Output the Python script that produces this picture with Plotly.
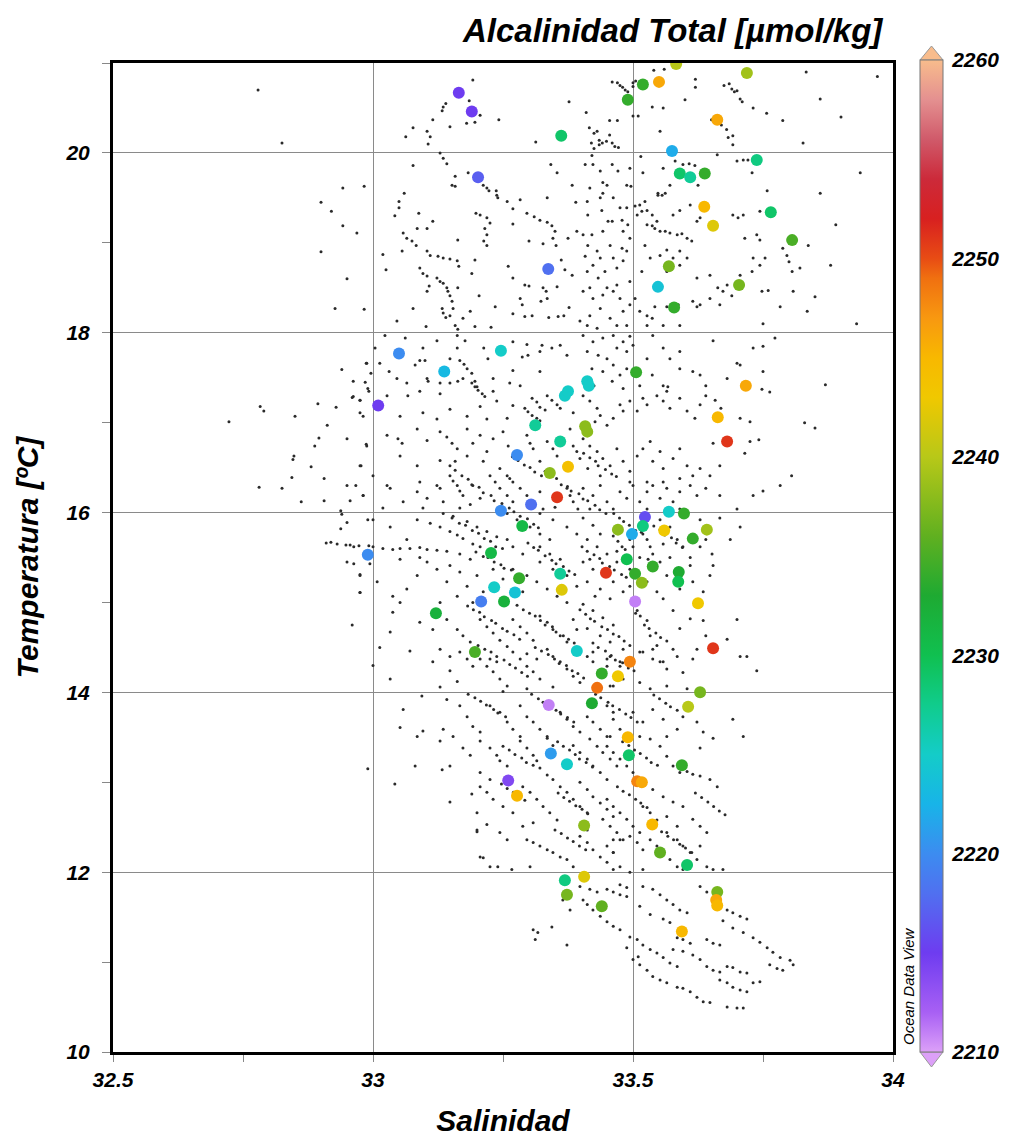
import plotly.graph_objects as go

# ---------------- Colored stations: salinity, temperature, total alkalinity ----------------
alk_sal = [33.165, 33.190, 33.362, 33.202, 33.337, 33.050, 33.246, 33.137, 33.010, 33.369,
           33.375, 33.412, 33.415, 33.312, 33.360, 33.277, 33.375, 33.340, 33.354, 33.304,
           33.246, 33.287, 32.990, 33.227, 33.281, 33.233, 33.273, 33.208, 33.252, 33.360,
           33.363, 33.121, 33.196, 33.392,
           33.506, 33.717, 33.663, 33.681, 33.408, 33.412, 33.569, 33.598, 33.523, 33.519,
           33.471, 33.498, 33.560, 33.642, 33.615, 33.488, 33.538, 33.504, 33.517, 33.588,
           33.587, 33.448, 33.504, 33.625, 33.654, 33.494, 33.440, 33.471, 33.431, 33.338,
           33.421, 33.342, 33.373, 33.260, 33.277, 33.406, 33.369, 33.406, 33.373, 33.440,
           33.629, 33.606, 33.490, 33.492, 33.594, 33.508, 33.517, 33.537, 33.552, 33.604,
           33.662, 33.660, 33.662, 33.594,
           33.583, 33.719, 33.519, 33.550, 33.490, 33.662, 33.575, 33.738, 33.590, 33.610,
           33.638, 33.637, 33.654, 33.765, 33.806, 33.569, 33.548, 33.704, 33.579]
alk_temp = [20.67, 20.46, 20.19, 19.73, 18.71, 17.77, 17.80, 17.57, 17.19, 17.30,
            17.35, 17.46, 17.41, 16.97, 16.79, 16.64, 16.51, 16.44, 16.17, 16.09,
            16.02, 15.85, 15.53, 15.55, 15.27, 15.17, 15.11, 15.01, 15.01, 15.32,
            15.14, 14.88, 14.45, 14.46,
            17.56, 17.41, 17.06, 16.79, 16.96, 16.90, 16.01, 15.99, 15.95, 15.85,
            15.81, 15.76, 15.80, 15.81, 15.71, 15.48, 15.40, 15.32, 15.22, 15.34,
            15.23, 15.33, 15.01, 14.99, 14.49, 14.34, 14.21, 14.18, 14.05, 13.86,
            13.88, 13.32, 13.20, 13.02, 12.85, 12.52, 11.91, 11.95, 11.75, 11.62,
            14.00, 13.84, 13.50, 13.30, 13.19, 13.01, 13.00, 12.53, 12.22, 12.08,
            11.78, 11.69, 11.63, 11.34,
            20.99, 20.89, 20.76, 20.79, 20.59, 20.37, 20.02, 19.92, 19.77, 19.73,
            19.77, 19.40, 19.19, 19.34, 19.03, 18.74, 18.51, 18.53, 18.28]
alk_value = [2215, 2215, 2229, 2217, 2218, 2220, 2225, 2223, 2215, 2225,
             2225, 2225, 2225, 2227, 2227, 2220, 2244, 2238, 2251, 2218,
             2220, 2231, 2220, 2231, 2234, 2225, 2224, 2219, 2232, 2227,
             2242, 2232, 2235, 2225,
             2234, 2246, 2245, 2251, 2238, 2238, 2225, 2234, 2216, 2228,
             2238, 2222, 2243, 2239, 2234, 2230, 2234, 2234, 2238, 2233,
             2230, 2251, 2211, 2243, 2251, 2248, 2234, 2243, 2249, 2211,
             2233, 2221, 2225, 2214, 2245, 2238, 2228, 2242, 2237, 2236,
             2237, 2240, 2245, 2229, 2234, 2248, 2246, 2245, 2236, 2229,
             2237, 2246, 2245, 2245,
             2240, 2239, 2234, 2246, 2234, 2246, 2222, 2228, 2229, 2227,
             2234, 2245, 2242, 2229, 2235, 2237, 2224, 2237, 2234]

# ---------------- Background CTD samples (salinity, temperature) ----------------
bg_20_21 = [(33.192,20.81),(33.14,20.55),(33.135,20.51),(33.133,20.47),(33.185,20.58),(33.377,20.57),
            (33.46,20.79),(33.47,20.78),(33.475,20.75),(33.48,20.73),(33.485,20.70),(33.49,20.68),
            (33.50,20.78),(33.505,20.80),(33.50,20.74),(33.54,20.92),(33.56,20.93),(33.60,20.59),
            (33.62,20.82),(33.62,20.73),(33.675,20.75),(33.685,20.77),(33.69,20.71),(33.695,20.68),
            (33.70,20.69),(33.706,20.60),(33.71,20.57),(33.731,20.50),(33.757,20.44),(33.833,20.90),
            (33.537,20.51),(33.558,20.50),(32.779,20.70),(33.86,20.60),(33.97,20.85),
            (33.206,20.42),(33.18,20.33),(33.196,20.34),(33.242,20.37),(33.115,20.37),(33.077,20.28),
            (33.104,20.24),(33.11,20.18),(33.106,20.10),(33.063,20.18),(33.148,20.29),(33.313,20.12),
            (33.41,20.45),(33.416,20.28),(33.425,20.22),(33.431,20.24),(33.435,20.14),(33.441,20.11),
            (33.449,20.13),(33.455,20.20),(33.46,20.11),(33.465,20.07),(33.472,20.06),(33.42,20.11),
            (33.435,20.09),(33.425,20.05),(33.47,20.36),(33.455,20.36),(33.50,20.41),(33.51,20.41),
            (33.651,20.37),(33.656,20.36),(33.67,20.31),(33.68,20.26),(33.683,20.17),(33.692,20.19),
            (33.692,20.09),(33.788,20.36),(33.827,20.11),(33.552,20.24),(32.825,20.11),(33.90,20.40)]

bg_19_20 = [(33.129,20.0),(33.135,19.94),(33.142,19.88),(33.077,19.86),(33.183,19.78),(33.158,19.74),
            (33.152,19.64),(33.158,19.63),(33.212,19.64),(33.219,19.61),(33.223,19.58),(33.237,19.58),
            (33.238,19.53),(33.240,19.50),(33.060,19.55),(32.983,19.63),(32.942,19.61),(33.383,19.64),
            (33.342,19.87),(33.354,19.78),(33.421,19.97),(33.408,19.87),(33.423,19.87),(33.437,19.80),
            (33.46,19.87),(33.471,19.80),(33.494,19.83),(33.488,19.64),(33.496,19.63),(33.442,19.67),
            (33.45,19.64),(33.417,19.61),(33.515,19.96),(33.519,19.78),(33.558,19.83),(33.548,19.53),
            (33.562,19.55),(33.571,19.64),(33.581,19.91),(33.596,19.87),(33.608,19.88),(33.619,19.86),
            (33.625,19.64),(33.70,19.91),(33.712,19.92),(33.721,19.92),(33.662,19.98),(33.729,19.78),
            (33.758,19.58),(33.937,19.78),(33.86,19.55),(32.90,19.45),(32.92,19.35),
            (33.258,19.46),(33.269,19.38),(33.283,19.48),(33.05,19.46),(33.05,19.39),(33.088,19.33),
            (33.042,19.30),(33.115,19.24),(33.198,19.33),(33.206,19.31),(33.219,19.28),(33.225,19.22),
            (33.215,19.16),(33.219,19.09),(33.213,19.02),(33.219,18.97),(33.058,19.11),(33.065,19.05),
            (33.075,19.02),(33.083,18.97),(33.163,19.03),(33.085,19.16),(33.104,19.16),(33.296,19.33),
            (33.31,19.29),(33.321,19.25),(33.335,19.23),(33.344,19.19),(33.35,19.13),(33.269,19.21),
            (33.30,19.02),(33.327,18.99),(33.346,19.05),(33.352,18.97),(33.375,19.05),(33.392,19.13),
            (33.335,19.50),(33.39,19.45),(32.969,19.11),(32.942,19.19),
            (33.412,19.46),(33.437,19.50),(33.442,19.55),(33.462,19.50),(33.475,19.39),(33.488,19.39),
            (33.413,19.31),(33.44,19.36),(33.452,19.24),(33.46,19.24),(33.479,19.25),(33.481,19.13),
            (33.49,19.20),(33.442,19.13),(33.421,19.09),(33.404,19.09),(33.494,19.05),(33.504,19.41),
            (33.513,19.42),(33.523,19.46),(33.508,19.31),(33.517,19.35),(33.527,19.36),(33.537,19.31),
            (33.546,19.24),(33.548,19.55),(33.556,19.53),(33.527,19.20),(33.537,19.19),(33.542,19.16),
            (33.552,19.13),(33.562,19.13),(33.571,19.11),(33.585,19.09),(33.594,19.10),(33.604,19.05),
            (33.613,19.02),(33.577,19.31),(33.59,19.36),(33.623,19.24),(33.629,19.28),(33.61,19.42),
            (33.692,19.31),(33.702,19.28),(33.712,19.31),(33.744,19.35),(33.715,19.05),(33.738,19.09),
            (33.744,19.03),(33.788,18.94),(33.796,18.86),(33.80,18.79),(33.806,18.68),(33.89,19.20)]

bg_18_19 = [(33.104,18.91),(33.11,18.86),(33.125,18.85),(33.135,18.83),(33.148,18.82),(33.162,18.80),
            (33.165,18.74),(33.09,18.72),(33.096,18.66),(33.104,18.63),(33.123,18.61),(33.129,18.57),
            (33.135,18.55),(33.142,18.50),(33.19,18.66),(33.196,18.81),(33.019,18.87),(33.025,18.70),
            (33.056,18.91),(33.108,18.52),(33.26,18.74),(33.269,18.61),(33.292,18.53),(33.30,18.52),
            (33.327,18.50),(33.354,18.51),(33.369,18.70),(33.383,18.64),(33.362,18.81),
            (33.413,18.97),(33.431,18.91),(33.437,18.83),(33.423,18.75),(33.412,18.68),(33.446,18.68),
            (33.462,18.83),(33.469,18.72),(33.481,18.80),(33.488,18.91),(33.479,18.94),(33.456,18.97),
            (33.408,18.85),(33.433,18.61),(33.469,18.53),(33.45,18.50),(33.417,18.50),(33.494,18.57),
            (33.517,18.68),(33.533,18.83),(33.552,18.86),(33.523,18.97),(33.565,18.92),(33.577,18.83),
            (33.59,18.91),(33.604,18.83),(33.59,18.75),(33.565,18.68),(33.623,18.61),(33.648,18.64),
            (33.663,18.50),(33.681,18.53),(33.673,18.46),(33.69,18.41),(33.70,18.50),(33.731,18.83),
            (33.744,18.75),(33.754,18.83),(33.76,18.47),(33.729,18.68),(33.706,18.64),(33.808,18.46),
            (33.821,18.72),(33.837,18.97),(32.90,18.90),(32.95,18.60),(33.88,18.75),
            (33.144,18.46),(33.148,18.41),(33.152,18.35),(33.154,18.27),(33.148,18.19),(33.133,18.27),
            (33.135,18.22),(33.14,18.17),(33.158,18.08),(33.163,18.04),(33.173,18.16),(33.187,18.24),
            (33.204,18.41),(33.235,18.29),(33.163,18.50),(33.104,18.46),(33.283,18.38),(33.287,18.31),
            (33.269,18.21),(33.292,18.18),(33.306,18.19),(33.333,18.46),(33.335,18.38),(33.323,18.35),
            (33.338,18.17),(33.356,18.18),(33.367,18.19),(33.377,18.28),(32.983,18.26),(33.077,18.27),
            (33.046,18.13),(33.102,18.07),(33.227,18.06),(33.196,18.07),(32.927,18.27),
            (33.404,18.46),(33.423,18.38),(33.442,18.42),(33.462,18.46),(33.475,18.38),(33.437,18.27),
            (33.417,18.19),(33.398,18.13),(33.412,18.08),(33.431,18.05),(33.456,18.16),(33.469,18.08),
            (33.481,18.24),(33.494,18.31),(33.488,18.08),(33.504,18.38),(33.513,18.24),(33.527,18.19),
            (33.537,18.16),(33.542,18.29),(33.565,18.29),(33.587,18.31),(33.615,18.35),(33.623,18.29),
            (33.629,18.31),(33.527,18.08),(33.558,18.08),(33.59,18.08),(33.648,18.38),(33.667,18.31),
            (33.748,18.46),(33.75,18.10),(33.783,18.29),(33.835,18.24),(33.85,18.40),(33.93,18.10)]

bg_17_18 = [(33.023,17.97),(33.004,17.83),(32.988,17.66),(33.013,17.66),(33.031,17.57),(33.062,17.94),
            (33.096,17.83),(33.10,17.69),(33.081,17.64),(33.09,17.69),(33.123,17.91),(33.162,17.97),
            (33.177,17.91),(33.162,17.83),(33.167,17.69),(33.175,17.65),(33.181,17.60),(33.19,17.55),
            (33.196,17.46),(33.20,17.40),(33.148,17.71),(33.213,17.83),(33.221,17.71),(33.269,17.90),
            (33.296,17.87),(33.287,17.73),(33.298,17.75),(33.321,17.79),(33.325,17.86),(33.344,17.83),
            (33.36,17.86),(33.373,17.75),(33.321,17.57),(33.269,17.58),(33.231,17.49),(33.104,17.49),
            (33.129,17.44),(33.065,17.44),(33.046,17.49),(32.99,17.38),(32.962,17.46),
            (33.404,17.97),(33.423,17.90),(33.442,17.94),(33.462,17.97),(33.481,17.90),(33.494,17.96),
            (33.412,17.79),(33.433,17.75),(33.45,17.71),(33.469,17.83),(33.488,17.79),(33.421,17.60),
            (33.442,17.57),(33.462,17.64),(33.475,17.53),(33.488,17.60),(33.425,17.41),(33.46,17.46),
            (33.481,17.38),(33.50,17.86),(33.538,17.97),(33.558,17.83),(33.59,17.79),(33.571,17.71),
            (33.527,17.71),(33.537,17.53),(33.513,17.41),(33.558,17.41),(33.59,17.60),(33.615,17.57),
            (33.629,17.53),(33.64,17.41),(33.681,17.49),(33.70,17.66),(33.75,17.57),(33.731,17.83),
            (33.75,17.85),(33.773,17.94),(33.654,17.91),(33.567,17.40),(33.706,17.64),(33.748,17.37),
            (33.763,17.34),(33.87,17.42),(33.83,17.00),(33.85,16.94),(33.805,16.41),(33.75,16.24),
            (33.725,16.79),(33.742,16.81),
            (32.987,17.66),(32.996,17.55),(32.94,17.59),(32.985,17.45),(32.992,17.35),(32.96,17.28),
            (32.975,17.25),(32.975,17.11),(32.894,17.21),(32.929,17.17),(32.85,17.07),(32.783,17.18),
            (32.79,17.13),(32.723,17.01),(32.912,16.97),(32.896,16.83),(32.888,16.74),(32.848,16.63),
            (32.846,16.59),(32.881,16.51),(32.844,16.39),(32.906,16.38),(32.967,16.30),(32.981,16.19),
            (32.781,16.28),(32.825,16.27),(32.862,16.12),(32.906,16.13),(32.987,16.76),(32.977,16.52),
            (33.027,17.30),(32.975,17.25),(32.962,17.29),(33.067,17.30),(33.09,17.35),(33.106,17.46),
            (33.129,17.32),(33.148,17.44),(33.163,17.46),(33.173,17.49),(33.19,17.44),(33.196,17.40),
            (33.202,17.36),(33.21,17.32),(33.215,17.29),(33.231,17.35),(33.263,17.44),(33.269,17.19),
            (33.292,17.16),(33.298,17.12),(33.306,17.08),(33.315,17.05),(33.321,17.02),(33.306,17.27),
            (33.315,17.23),(33.321,17.17),(33.331,17.14),(33.335,17.30),(33.344,17.25),(33.354,17.20),
            (33.36,17.16),(33.283,17.41),(33.238,17.24),(33.206,17.18),(33.181,17.07),(33.148,17.15),
            (33.123,17.04),(33.096,17.11),(33.052,17.07),(33.013,17.15),(32.981,17.07),(33.219,17.04),
            (33.258,17.05),(33.385,17.11),(33.379,16.93),
            (33.404,17.30),(33.417,17.24),(33.431,17.16),(33.437,17.08),(33.427,17.01),(33.45,16.97),
            (33.462,17.05),(33.475,17.20),(33.481,17.13),(33.494,17.24),(33.508,17.13),(33.519,17.27),
            (33.527,17.20),(33.546,17.30),(33.558,17.24),(33.565,17.35),(33.571,17.16),(33.59,17.27),
            (33.604,17.13),(33.619,17.05),(33.629,17.20),(33.64,17.30),(33.658,17.25),(33.669,17.16),
            (33.706,17.05),(33.725,17.01)]

bg_16_17 = [(32.95,16.82),(32.988,16.74),(33.027,16.86),(33.048,16.82),(33.056,16.77),(33.085,16.93),
            (33.104,16.80),(33.129,16.90),(33.142,16.84),(33.152,16.77),(33.162,16.71),(33.181,16.93),
            (33.192,16.77),(33.206,16.86),(33.219,16.68),(33.231,16.82),(33.25,16.90),(33.26,16.74),
            (33.129,16.58),(33.148,16.52),(33.158,16.57),(33.181,16.63),(33.212,16.57),(33.244,16.49),
            (33.258,16.41),(33.263,16.38),(33.269,16.34),(33.296,16.86),(33.302,16.77),(33.308,16.71),
            (33.335,16.79),(33.346,16.71),(33.354,16.63),(33.385,16.74),(33.392,16.68),(33.398,16.60),
            (33.321,16.57),(33.052,16.63),(32.975,16.52),(33.0,16.41),(33.027,16.30),(33.085,16.52),
            (33.09,16.34),
            (33.404,16.82),(33.417,16.74),(33.431,16.68),(33.442,16.60),(33.456,16.52),(33.437,16.41),
            (33.413,16.49),(33.469,16.71),(33.481,16.57),(33.494,16.46),(33.508,16.63),(33.519,16.71),
            (33.533,16.79),(33.538,16.57),(33.552,16.68),(33.558,16.49),(33.577,16.60),(33.59,16.71),
            (33.604,16.52),(33.615,16.41),(33.629,16.49),(33.648,16.41),(33.667,16.52),(33.59,16.38),
            (33.558,16.34),(33.527,16.34),(33.494,16.34),(33.654,16.77),(33.715,16.66),
            (32.95,16.30),(32.981,16.19),(33.033,16.27),(33.058,16.12),(33.085,16.23),(33.104,16.16),
            (33.123,16.30),(33.129,16.27),(33.148,16.41),(33.154,16.35),(33.162,16.30),(33.167,16.24),
            (33.173,16.19),(33.135,16.12),(33.192,16.30),(33.206,16.16),(33.225,16.41),(33.235,16.34),
            (33.244,16.27),(33.258,16.19),(33.269,16.12),(33.283,16.27),(33.296,16.19),(33.321,16.23),
            (33.327,16.04),(33.373,16.27),(33.379,16.19),(33.385,16.12),(33.394,16.04),(33.35,16.06),
            (33.187,16.09),(33.167,16.05),(33.096,16.05),(33.019,16.05),(32.956,16.13),
            (33.404,16.27),(33.423,16.19),(33.437,16.30),(33.45,16.12),(33.462,16.04),(33.417,16.04),
            (33.475,16.23),(33.488,16.16),(33.50,16.30),(33.513,16.12),(33.527,16.23),(33.538,16.30),
            (33.552,16.16),(33.565,16.27),(33.577,16.12),(33.59,16.23),(33.61,16.30),(33.623,16.19),
            (33.64,16.27),(33.667,16.19),(33.70,16.04),(33.59,16.04),(33.527,16.04),(33.731,16.19),
            (33.783,16.30)]

bg_15_16 = [(32.938,16.02),(32.94,15.98),(32.95,15.89),(32.99,15.92),(32.938,15.82),(32.91,15.66),
            (32.919,15.67),(32.931,15.65),(32.948,15.64),(32.956,15.64),(32.973,15.63),(32.992,15.63),
            (32.963,15.43),(32.975,15.31),(32.975,15.11),(32.994,15.43),
            (32.963,15.62),(33.0,15.62),(33.019,15.60),(33.038,15.59),(33.052,15.60),(33.071,15.60),
            (33.09,15.61),(33.104,15.59),(33.123,15.58),(33.142,15.57),
            (33.085,15.92),(33.11,15.88),(33.129,15.84),(33.148,15.79),(33.162,15.75),(33.173,15.71),
            (33.192,15.65),(33.206,15.62),(33.135,15.99),(33.154,15.96),(33.181,15.90),(33.20,15.84),
            (33.219,15.79),(33.238,15.73),(33.258,15.99),(33.277,15.92),(33.302,15.84),(33.321,15.76),
            (33.340,15.70),(33.321,15.99),(33.346,15.92),(33.373,15.84),(33.392,15.76),(33.167,15.54),
            (33.187,15.48),(33.258,15.70),(33.269,15.62),(33.288,15.54),(33.321,15.62),(33.340,15.54),
            (33.36,15.48),(33.09,15.50),(33.065,15.70),(33.033,15.84),(33.0,15.92),(33.052,15.48),
            (33.404,15.94),(33.423,15.86),(33.437,15.76),(33.412,15.70),(33.431,15.62),(33.45,15.54),
            (33.417,15.48),(33.462,15.74),(33.471,15.68),(33.479,15.62),(33.485,15.59),(33.469,15.57),
            (33.519,15.76),(33.527,15.70),(33.533,15.62),(33.538,15.54),(33.529,15.48),(33.513,15.50),
            (33.50,15.62),(33.494,15.70),(33.552,15.92),(33.571,15.84),(33.585,15.70),(33.596,15.62),
            (33.61,15.50),(33.629,15.62),(33.64,15.70),(33.652,15.54),(33.629,15.92),(33.667,15.94),
            (33.706,15.84),(33.687,15.70),(33.558,15.65),(33.571,15.50),
            (32.95,15.45),(32.975,15.30),(33.008,15.23),(33.038,15.07),(33.065,15.15),(33.085,15.30),
            (33.104,15.45),(33.123,15.37),(33.142,15.23),(33.162,15.07),(33.148,15.41),(33.167,15.34),
            (33.181,15.18),(33.20,15.30),(33.212,15.12),(33.231,15.37),(33.25,15.26),(33.269,15.37),
            (33.296,15.30),(33.315,15.23),(33.335,15.15),(33.354,15.07),(33.373,15.00),(33.321,15.45),
            (33.346,15.37),(33.373,15.30),(33.392,15.18),(33.288,15.12),(33.192,15.00),(33.129,15.00),
            (33.052,15.00),(32.975,15.11),
            (33.404,15.45),(33.423,15.37),(33.412,15.23),(33.437,15.15),(33.462,15.23),(33.427,15.07),
            (33.456,15.04),(33.481,15.12),(33.494,15.18),(33.527,15.23),(33.546,15.12),(33.558,15.04),
            (33.565,15.30),(33.59,15.15),(33.615,15.23),(33.635,15.12),(33.648,15.30),(33.654,15.41),
            (33.61,15.41),(33.552,15.45),(33.494,15.37),(33.469,15.45)]

bg_14_15 = [(33.013,14.50),(33.071,14.46),(33.09,14.78),(33.115,14.70),(33.142,14.81),(33.162,14.70),
            (33.173,14.63),(33.187,14.56),(33.206,14.81),(33.219,14.73),(33.231,14.66),(33.244,14.58),
            (33.258,14.51),(33.269,14.81),(33.283,14.73),(33.296,14.66),(33.308,14.58),(33.321,14.85),
            (33.335,14.78),(33.346,14.70),(33.36,14.63),(33.373,14.56),(33.385,14.81),(33.392,14.70),
            (33.129,14.48),(33.148,14.40),(33.225,14.37),(33.238,14.34),(33.296,14.43),(33.315,14.37),
            (33.038,14.89),(33.033,14.67),(32.96,14.75),(33.0,14.30),
            (33.404,14.98),(33.423,14.91),(33.442,14.83),(33.462,14.75),(33.412,14.71),(33.437,14.63),
            (33.456,14.56),(33.481,14.48),(33.423,14.45),(33.45,14.37),(33.475,14.34),(33.508,14.91),
            (33.527,14.80),(33.533,14.63),(33.546,14.52),(33.513,14.45),(33.538,14.37),(33.558,14.34),
            (33.577,14.91),(33.59,14.71),(33.61,14.82),(33.629,14.98),(33.635,14.80),(33.64,14.63),
            (33.623,14.48),(33.577,14.48),(33.681,14.59),(33.70,14.81),(33.719,14.40),
            (33.033,14.15),(33.115,14.34),(33.148,14.24),(33.167,14.45),(33.181,14.37),(33.192,14.29),
            (33.206,14.37),(33.219,14.29),(33.231,14.23),(33.244,14.15),(33.258,14.07),(33.269,14.45),
            (33.283,14.37),(33.296,14.29),(33.308,14.23),(33.321,14.15),(33.335,14.48),(33.346,14.40),
            (33.36,14.34),(33.373,14.26),(33.385,14.18),(33.398,14.11),(33.412,14.40),(33.423,14.34),
            (33.45,14.29),(33.462,14.07),(33.25,14.01),(33.296,14.04),(33.346,14.06),(33.094,13.96),
            (33.162,14.12),(33.129,14.06),
            (33.456,14.40),(33.475,14.29),(33.50,14.37),(33.519,14.45),(33.538,14.48),(33.552,14.34),
            (33.565,14.26),(33.585,14.40),(33.596,14.22),(33.615,14.37),(33.513,14.11),(33.533,14.04),
            (33.565,14.07),(33.604,14.04),(33.706,14.40),(33.738,14.24),(33.456,14.07),(33.481,14.15)]

bg_13_14 = [(33.142,13.92),(33.167,13.85),(33.181,13.73),(33.192,13.62),(33.206,13.56),(33.225,13.85),
            (33.244,13.78),(33.258,13.67),(33.269,13.59),(33.283,13.51),(33.283,13.85),(33.296,13.73),
            (33.308,13.67),(33.321,13.59),(33.335,13.51),(33.36,13.78),(33.373,13.70),(33.385,13.62),
            (33.398,13.56),(33.412,13.73),(33.423,13.67),(33.437,13.59),(33.45,13.51),(33.462,13.78),
            (33.135,13.59),(33.154,13.51),(33.052,13.61),(33.085,13.51),(33.096,13.57),(33.058,13.81),
            (33.45,13.85),(33.462,13.70),(33.475,13.59),(33.50,13.78),(33.519,13.67),(33.538,13.81),
            (33.558,13.70),(33.565,13.51),(33.585,13.59),(33.596,13.73),(33.623,13.67),(33.635,13.56),
            (33.692,13.70),(33.712,13.51),(33.513,13.51),(33.456,13.51),
            (33.206,13.46),(33.225,13.38),(33.238,13.30),(33.244,13.24),(33.283,13.46),(33.296,13.38),
            (33.308,13.30),(33.315,13.24),(33.321,13.16),(33.335,13.08),(33.335,13.49),(33.346,13.41),
            (33.385,13.41),(33.398,13.33),(33.412,13.26),(33.423,13.18),(33.437,13.11),(33.45,13.03),
            (33.417,13.48),(33.431,13.40),(33.442,13.33),(33.456,13.26),(33.469,13.18),(33.258,13.18),
            (33.206,13.11),(33.225,13.03),(33.173,13.38),(33.187,13.30),(33.148,13.18),(33.133,13.14),
            (33.081,13.18),(33.042,12.98),(33.129,13.46),(32.99,13.15),
            (33.45,13.40),(33.462,13.33),(33.475,13.26),(33.488,13.18),(33.50,13.11),(33.513,13.03),
            (33.533,13.48),(33.552,13.40),(33.565,13.29),(33.577,13.18),(33.59,13.11),(33.604,13.12),
            (33.615,13.09),(33.629,13.07),(33.648,13.03),(33.662,12.95),(33.629,13.38),(33.654,13.49)]

bg_12_13 = [(33.206,12.95),(33.219,12.89),(33.231,12.81),(33.288,12.95),(33.302,12.89),(33.315,12.81),
            (33.327,12.73),(33.340,12.66),(33.354,12.58),(33.346,13.03),(33.36,12.95),(33.373,12.89),
            (33.385,12.81),(33.398,12.73),(33.412,12.66),(33.398,13.0),(33.412,12.92),(33.423,12.84),
            (33.437,12.77),(33.45,12.70),(33.462,12.62),(33.19,12.87),(33.20,12.66),(33.219,12.53),
            (33.25,12.73),(33.269,12.66),(33.288,12.51),(33.308,12.55),(33.148,12.78),
            (33.45,12.81),(33.462,12.73),(33.475,12.66),(33.488,12.59),(33.50,12.51),(33.513,12.44),
            (33.442,12.59),(33.456,12.51),(33.469,12.44),(33.481,12.36),(33.519,12.73),(33.533,12.66),
            (33.546,12.58),(33.538,12.92),(33.558,12.84),(33.577,12.78),(33.596,12.73),(33.615,12.59),
            (33.629,12.51),(33.565,12.62),(33.585,12.51),(33.642,12.44),
            (33.296,12.36),(33.308,12.33),(33.321,12.29),(33.335,12.25),(33.346,12.22),(33.36,12.17),
            (33.373,12.14),(33.385,12.06),(33.398,12.40),(33.412,12.33),(33.423,12.25),(33.437,12.17),
            (33.45,12.11),(33.462,12.03),(33.244,12.44),(33.258,12.36),(33.20,12.47),(33.206,12.17),
            (33.225,12.06),(33.302,12.06),(33.412,12.47),(33.462,12.36),(33.462,12.22),(33.20,12.45),
            (33.212,12.16),(33.24,12.06),(33.267,12.03),
            (33.45,12.29),(33.462,12.22),(33.475,12.36),(33.494,12.40),(33.508,12.33),(33.519,12.25),
            (33.533,12.36),(33.546,12.29),(33.558,12.22),(33.571,12.14),(33.585,12.06),(33.596,12.03),
            (33.565,12.44),(33.585,12.36),(33.596,12.29),(33.61,12.22),(33.623,12.14),(33.629,12.29),
            (33.642,12.06),(33.654,12.03),(33.673,12.03),(33.475,12.06),(33.494,12.0),(33.519,12.03)]

bg_10_12 = [(33.398,11.84),(33.417,11.81),(33.431,11.78),(33.45,11.81),(33.462,11.78),(33.475,11.75),
            (33.488,11.73),(33.404,11.69),(33.412,11.64),(33.423,11.58),(33.437,11.51),(33.45,11.45),
            (33.462,11.40),(33.475,11.36),(33.519,11.84),(33.538,11.81),(33.552,11.75),(33.565,11.69),
            (33.577,11.64),(33.59,11.58),(33.604,11.55),(33.513,11.62),(33.533,11.53),(33.629,11.84),
            (33.642,11.78),(33.654,11.69),(33.681,11.58),(33.692,11.55),(33.706,11.51),(33.719,11.48),
            (33.475,11.86),(33.488,11.83),(33.558,11.48),(33.571,11.44),(33.365,11.69),(33.379,11.58),
            (33.344,11.39),(33.308,11.36),(33.317,11.33),(33.312,11.25),(33.373,11.19),
            (33.494,11.28),(33.508,11.25),(33.519,11.19),(33.533,11.14),(33.546,11.10),(33.558,11.05),
            (33.571,10.99),(33.585,10.95),(33.50,11.03),(33.513,10.97),(33.527,10.91),(33.538,10.84),
            (33.552,10.80),(33.565,10.77),(33.585,10.72),(33.596,10.71),(33.61,10.67),(33.623,10.61),
            (33.635,10.56),(33.648,10.55),(33.577,11.14),(33.596,11.12),(33.615,11.08),(33.629,11.03),
            (33.642,10.95),(33.654,10.91),(33.667,10.89),(33.681,10.95),(33.692,10.94),(33.706,10.89),
            (33.719,10.88),(33.667,10.80),(33.681,10.77),(33.692,10.72),(33.706,10.69),(33.719,10.67),
            (33.731,10.77),(33.744,10.78),(33.681,10.50),(33.70,10.49),(33.712,10.49),(33.673,11.46),
            (33.692,11.38),(33.712,11.33),(33.731,11.27),(33.744,11.22),(33.758,11.16),(33.769,11.11),
            (33.783,11.05),(33.802,11.02),(33.808,10.97),(33.763,10.97),(33.777,10.93),(33.788,10.91),
            (33.585,11.27),(33.596,11.25),(33.61,11.21),(33.642,11.25),(33.654,11.21),(33.667,11.19),
            (33.51,11.06),(33.488,11.16)]

# denser streaks in the core of the cloud
bg_core_15_17 = [(33.158,16.47),(33.171,16.41),(33.183,16.37),(33.190,16.31),(33.204,16.28),(33.212,16.22),
            (33.227,16.19),(33.233,16.13),(33.248,16.10),(33.262,16.05),(33.271,16.01),(33.283,15.96),
            (33.297,15.93),(33.309,15.87),(33.318,15.83),(33.331,16.46),(33.342,16.40),(33.353,16.38),
            (33.362,16.31),(33.374,16.29),(33.381,16.24),(33.396,16.21),(33.404,16.15),(33.413,16.13),
            (33.427,16.08),(33.436,16.03),(33.448,15.99),(33.198,15.56),(33.212,15.51),(33.221,15.50),
            (33.233,15.45),(33.246,15.42),(33.252,15.38),(33.266,15.36),(33.279,15.31),(33.152,15.94),
            (33.166,15.88),(33.178,15.86),(33.191,15.80),(33.203,15.77),(33.214,15.71),(33.226,15.68),
            (33.236,15.62),(33.249,15.60),(33.298,15.66),(33.309,15.61),(33.318,15.58),(33.331,15.52),
            (33.344,15.47),(33.352,15.43),(33.366,15.40),(33.377,15.35),(33.388,15.31),(33.402,15.62),
            (33.412,15.57),(33.425,15.53),(33.436,15.49),(33.441,15.44),(33.455,15.40),(33.464,15.36),
            (33.478,15.31),(33.487,15.28),(33.268,16.62),(33.279,16.58),(33.291,16.53),(33.302,16.50),
            (33.311,16.45),(33.324,16.41),(33.405,16.66),(33.417,16.61),(33.428,16.57),(33.433,16.52),
            (33.447,16.48),(33.459,16.43),(33.468,16.40),(33.463,15.99),(33.474,15.94),(33.482,15.90),
            (33.493,15.86),(33.505,15.80),(33.516,15.78),(33.54,15.85),(33.552,15.81),(33.561,15.75),
            (33.574,15.72),(33.583,15.66),(33.595,15.61)]

bg_core_13_15 = [(33.182,14.96),(33.193,14.92),(33.205,14.89),(33.214,14.84),(33.228,14.80),(33.236,14.77),
            (33.249,14.71),(33.258,14.68),(33.271,14.64),(33.282,14.59),(33.277,14.97),(33.289,14.92),
            (33.301,14.88),(33.312,14.85),(33.322,14.80),(33.331,14.75),(33.345,14.73),(33.352,14.67),
            (33.366,14.63),(33.376,14.59),(33.387,14.55),(33.398,14.92),(33.409,14.87),(33.418,14.82),
            (33.426,14.79),(33.44,14.73),(33.451,14.70),(33.462,14.65),(33.473,14.62),(33.483,14.57),
            (33.494,14.52),(33.505,14.88),(33.514,14.85),(33.522,14.75),(33.531,14.71),(33.544,14.66),
            (33.553,14.61),(33.565,14.57),(33.202,14.52),(33.215,14.48),(33.227,14.45),(33.238,14.40),
            (33.252,14.36),(33.263,14.31),(33.274,14.27),(33.286,14.22),(33.297,14.18),(33.312,14.50),
            (33.324,14.46),(33.337,14.42),(33.349,14.37),(33.358,14.32),(33.372,14.30),(33.383,14.24),
            (33.394,14.21),(33.405,14.16),(33.423,14.55),(33.433,14.50),(33.447,14.46),(33.458,14.41),
            (33.466,14.36),(33.48,14.33),(33.491,14.27),(33.502,14.24),(33.183,13.98),(33.196,13.94),
            (33.207,13.90),(33.218,13.86),(33.232,13.81),(33.240,13.77),(33.255,13.73),(33.305,13.98),
            (33.318,13.93),(33.327,13.89),(33.339,13.85),(33.352,13.80),(33.361,13.76),(33.374,13.72),
            (33.386,13.67),(33.428,13.98),(33.438,13.94),(33.452,13.89),(33.461,13.85),(33.474,13.81),
            (33.486,13.76),(33.496,13.72),(33.508,13.67),(33.54,13.97),(33.551,13.93),(33.563,13.88),
            (33.572,13.84),(33.585,13.80),(33.25,13.40),(33.262,13.36),(33.273,13.31),(33.286,13.27),
            (33.295,13.22),(33.308,13.19),(33.355,13.45),(33.366,13.40),(33.378,13.36),(33.389,13.31),
            (33.397,13.26),(33.41,13.22),(33.422,13.17),(33.48,13.45),(33.492,13.41),(33.503,13.36),
            (33.514,13.32),(33.526,13.27),(33.535,13.22),(33.547,13.19)]

bg_core_12_13 = [(33.247,12.98),(33.258,12.93),(33.27,12.89),(33.282,12.84),(33.292,12.80),
            (33.356,12.88),(33.367,12.83),(33.378,12.79),(33.39,12.74),(33.402,12.70),(33.413,12.65),
            (33.47,12.95),(33.481,12.90),(33.493,12.86),(33.505,12.81),(33.515,12.77),(33.527,12.72),
            (33.555,12.45),(33.567,12.40),(33.578,12.36),(33.59,12.31),(33.601,12.27),(33.613,12.22),
            (33.35,12.47),(33.362,12.43),(33.374,12.38),(33.385,12.34),(33.397,12.29),(33.409,12.25),
            (33.62,12.88),(33.632,12.83),(33.644,12.78),(33.655,12.73),(33.666,12.68),(33.677,12.64)]

bg_points = (bg_20_21 + bg_19_20 + bg_18_19 + bg_17_18 + bg_16_17 + bg_15_16 + bg_14_15
             + bg_13_14 + bg_12_13 + bg_10_12 + bg_core_15_17 + bg_core_13_15 + bg_core_12_13)
bg_sal = [p[0] for p in bg_points]
bg_temp = [p[1] for p in bg_points]

# ---------------- Axis / colour settings ----------------
x_range = [32.5, 34.0]
y_range = [10.0, 21.0]
x_ticks = [32.5, 33.0, 33.5, 34.0]
x_ticklabels = ["32.5", "33", "33.5", "34"]
y_ticks = [10, 12, 14, 16, 18, 20]
cbar_ticks = [2210, 2220, 2230, 2240, 2250, 2260]
cmin, cmax = 2210, 2260

odv_scale = [
    [0.00, "#dca0f8"], [0.04, "#a860f4"], [0.10, "#6e3cf0"], [0.16, "#5070f0"],
    [0.20, "#3c8cf0"], [0.25, "#18b4e8"], [0.30, "#14ccc8"], [0.35, "#10cc8c"],
    [0.40, "#10c050"], [0.46, "#1eaa32"], [0.52, "#60b020"], [0.60, "#b8c818"],
    [0.66, "#f0c800"], [0.70, "#f8b800"], [0.74, "#f89810"], [0.78, "#f07010"],
    [0.80, "#e84c14"], [0.84, "#d82020"], [0.88, "#cc2a3a"], [0.92, "#d05a6a"],
    [0.96, "#e49090"], [1.00, "#f8bc8c"],
]

FONT = "Liberation Sans, Arial, sans-serif"
OFF = 8                       # default body margin of the html page
W, H = 1011 - OFF, 1138 - OFF
L, T = 113 - OFF, 63 - OFF
PW, PH = 780, 989
R, B = W - L - PW, H - T - PH


def px_to_paper_x(px):
    return (px - OFF - L) / PW


def px_to_paper_y(py):
    return (T + PH - (py - OFF)) / PH


fig = go.Figure()
fig.add_trace(go.Scatter(
    x=bg_sal, y=bg_temp, mode="markers",
    marker=dict(size=3, color="#2a2a2a"),
    hoverinfo="skip", showlegend=False))

fig.add_trace(go.Scatter(
    x=alk_sal, y=alk_temp, mode="markers",
    marker=dict(size=12, color=alk_value, colorscale=odv_scale, cmin=cmin, cmax=cmax,
                line=dict(width=0),
                colorbar=dict(
                    thickness=23, thicknessmode="pixels",
                    len=992, lenmode="pixels",
                    x=px_to_paper_x(920), xanchor="left", xpad=0,
                    y=0, yanchor="bottom", ypad=0,
                    outlinewidth=1, outlinecolor="#777777",
                    tickvals=cbar_ticks, ticktext=[str(v) for v in cbar_ticks],
                    ticks="outside", ticklen=5, tickcolor="rgba(0,0,0,0)",
                    tickfont=dict(family=FONT, size=21, color="black", weight="bold", style="italic"),
                )),
    showlegend=False))

axis_font = dict(family=FONT, size=21, color="black", weight="bold", style="italic")
axis_title_font = dict(family=FONT, size=30, color="black", weight="bold", style="italic")
main_title_font = dict(family=FONT, size=33, color="black", weight="bold", style="italic")

fig.update_xaxes(
    range=x_range, tickvals=x_ticks, ticktext=x_ticklabels,
    showgrid=True, gridcolor="#8a8a8a", gridwidth=1,
    showline=True, linewidth=3, linecolor="black", mirror=True,
    ticks="outside", ticklen=7, tickcolor="#888888", tickwidth=1,
    minor=dict(dtick=0.25, tick0=32.5, ticks="outside", ticklen=7, tickcolor="#888888", showgrid=False),
    tickfont=axis_font, zeroline=False,
    title=dict(text="Salinidad", font=axis_title_font, standoff=20),
)
fig.update_yaxes(
    range=y_range, tickvals=y_ticks,
    showgrid=True, gridcolor="#8a8a8a", gridwidth=1,
    showline=True, linewidth=3, linecolor="black", mirror=True,
    ticks="outside", ticklen=8, tickcolor="#888888", tickwidth=1,
    minor=dict(dtick=1, tick0=10, ticks="outside", ticklen=8, tickcolor="#888888", showgrid=False),
    tickfont=axis_font, zeroline=False, ticklabelstandoff=8,
    title=dict(text="Temperatura [ºC]", font=axis_title_font, standoff=18),
)

# colour-bar end triangles
cx0, cx1 = px_to_paper_x(920), px_to_paper_x(943)
cxm = (cx0 + cx1) / 2
top_base, top_apex = px_to_paper_y(60), px_to_paper_y(46)
bot_base, bot_apex = px_to_paper_y(1052), px_to_paper_y(1067)
fig.add_shape(type="path", xref="paper", yref="paper",
              path=f"M {cx0},{top_base} L {cx1},{top_base} L {cxm},{top_apex} Z",
              fillcolor="#f8bc8c", line=dict(color="#999999", width=1))
fig.add_shape(type="path", xref="paper", yref="paper",
              path=f"M {cx0},{bot_base} L {cx1},{bot_base} L {cxm},{bot_apex} Z",
              fillcolor="#dca0f8", line=dict(color="#999999", width=1))

fig.add_annotation(text="Alcalinidad Total [µmol/kg]", xref="paper", yref="paper",
                   x=px_to_paper_x(885), y=px_to_paper_y(30), xanchor="right", yanchor="middle",
                   showarrow=False, font=main_title_font)
fig.add_annotation(text="Ocean Data View", xref="paper", yref="paper",
                   x=px_to_paper_x(908), y=px_to_paper_y(986), xanchor="center", yanchor="middle",
                   textangle=-90, showarrow=False,
                   font=dict(family=FONT, size=15, color="black", style="italic"))

fig.update_layout(
    width=W, height=H,
    margin=dict(l=L, r=R, t=T, b=B, autoexpand=False),
    paper_bgcolor="white", plot_bgcolor="white",
    showlegend=False,
)

fig.write_html("out.html")
